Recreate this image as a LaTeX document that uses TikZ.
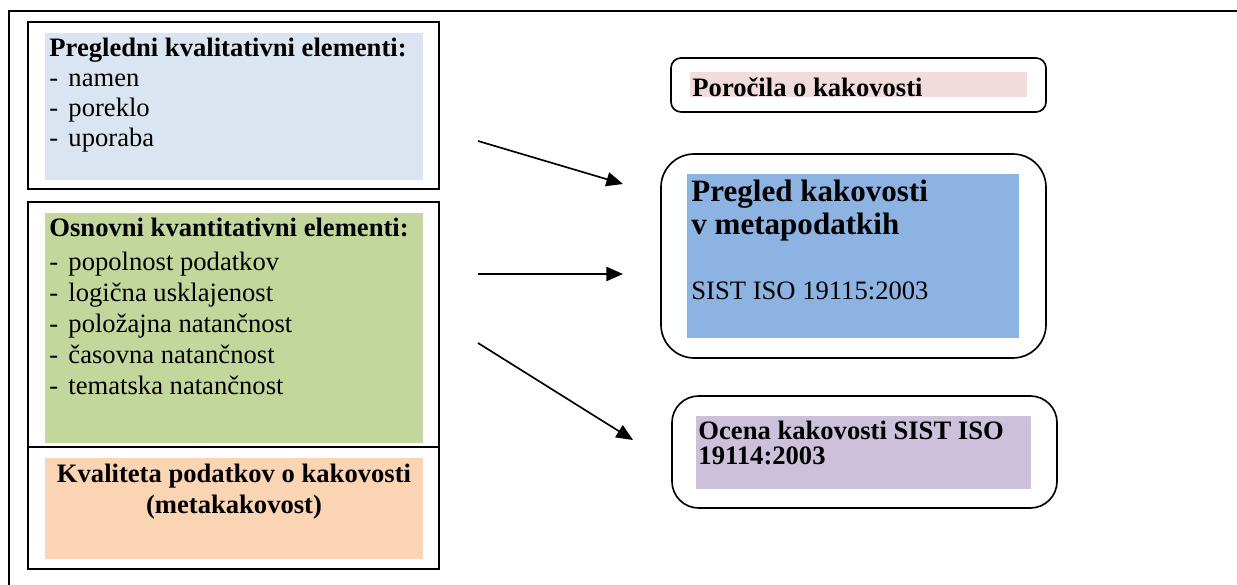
\documentclass[tikz,border=0pt]{standalone}
\usepackage{fontspec}
\setmainfont{Liberation Serif}
\usepackage{tikz}
\usetikzlibrary{arrows.meta,positioning}
\definecolor{modrosvetla}{HTML}{DBE5F1}
\definecolor{zelena}{HTML}{C3D69B}
\definecolor{oranzna}{HTML}{FBD4B4}
\definecolor{roza}{HTML}{F2DCDB}
\definecolor{modra}{HTML}{8DB3E2}
\definecolor{vijolicna}{HTML}{CCC0DA}
\newcommand{\alineja}{\makebox[8.6pt][l]{-}}

\begin{document}
\begin{tikzpicture}[x=0.451pt,y=-0.451pt,
  okvir/.style={line width=0.9pt},
  zaobljen/.style={line width=0.75pt},
  naslov/.style={anchor=base west, inner sep=0pt, font=\fontsize{12pt}{13.6pt}\selectfont\bfseries},
  vrstica/.style={anchor=base west, inner sep=0pt, font=\fontsize{12pt}{13.6pt}\selectfont},
  puscica/.style={line width=0.75pt, -{Triangle[length=7.5pt,width=6.4pt]}}]
\useasboundingbox (0,0) rectangle (1237,585);
% outer frame
\draw[okvir] (9,585) -- (9,11) -- (1237,11);
% left column
\draw[okvir] (28,22) rectangle (439,189);
\fill[modrosvetla] (45,33) rectangle (423,180);
\draw[okvir] (28,202) rectangle (439,569);
\draw[okvir] (28,447) -- (439,447);
\fill[zelena] (45,213) rectangle (423,443);
\fill[oranzna] (45,458) rectangle (423,559);

\node[naslov] (kval) at (49,57) {Pregledni kvalitativni elementi:};
\foreach \t [count=\i] in {namen,poreklo,uporaba}
  \node[vrstica] (kval\i) at (49,{57+30*\i}) {\alineja\t};

\node[naslov] (kvant) at (49,237) {Osnovni kvantitativni elementi:};
\foreach \t [count=\i] in {popolnost podatkov,logična usklajenost,položajna natančnost,časovna natančnost,tematska natančnost}
  \node[vrstica] (kvant\i) at (49,{240+31*\i}) {\alineja\t};

\node[naslov, anchor=base] (meta1) at (234,483) {Kvaliteta podatkov o kakovosti};
\node[naslov, anchor=base] (meta2) at (234,513) {(metakakovost)};

% right column
\draw[zaobljen, rounded corners=4.5pt] (671,58) rectangle (1046,112);
\fill[roza] (690,72) rectangle (1027,97);
\node[naslov] (porocila) at (692,97) {Poročila o kakovosti};

\draw[zaobljen, rounded corners=15pt] (661,154) rectangle (1046,358);
\fill[modra] (687,174) rectangle (1019,338);
\node[naslov, font=\fontsize{14pt}{16pt}\selectfont\bfseries] (pregled1) at (691,202) {Pregled kakovosti};
\node[naslov, font=\fontsize{14pt}{16pt}\selectfont\bfseries] (pregled2) at (691,235) {v metapodatkih};
\node[vrstica] (sist) at (691,300) {SIST ISO 19115:2003};

\draw[zaobljen, rounded corners=12pt] (672,396) rectangle (1057,508);
\fill[vijolicna] (696,416) rectangle (1031,489);
\node[naslov] (ocena1) at (698,439) {Ocena kakovosti SIST ISO};
\node[naslov] (ocena2) at (698,464) {19114:2003};

% arrows
\coordinate (z1) at (478,141);
\coordinate (k1) at (623,184);
\coordinate (z2) at (478,274);
\coordinate (k2) at (623,274);
\coordinate (z3) at (478,343);
\coordinate (k3) at (633,440);
\draw[puscica] (z1) -- (k1);
\draw[puscica] (z2) -- (k2);
\draw[puscica] (z3) -- (k3);
\end{tikzpicture}
\end{document}
